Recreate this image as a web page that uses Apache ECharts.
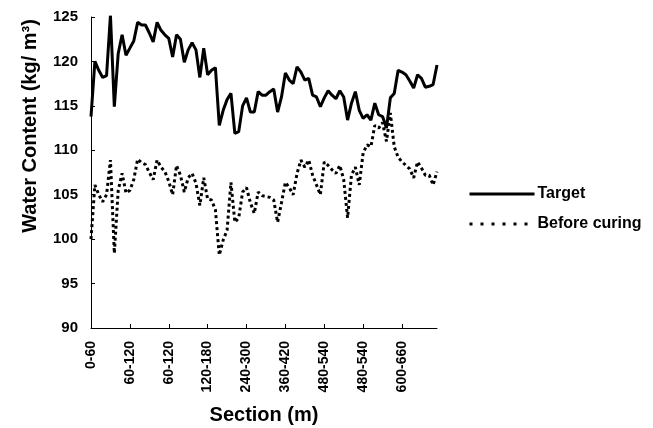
<!DOCTYPE html>
<html>
<head>
<meta charset="utf-8">
<script src="https://cdn.jsdelivr.net/npm/echarts@6/dist/echarts.min.js"></script>
<style>
html,body{margin:0;padding:0;background:#fff;}
#chart{width:653px;height:428px;}
</style>
</head>
<body>
<div id="chart"></div>
<script>
// Tick labels shown along the x axis (every 10th section point)
const tickLabels = ['0-60','60-120','60-120','120-180','240-300','360-420','480-540','480-540','600-660'];

// Target water content (kg/m3)
const target = [
  113.8,120.0,119.0,118.2,118.4,125.2,114.9,120.9,123.0,120.7,
  121.5,122.3,124.4,124.1,124.1,123.2,122.2,124.4,123.5,123.0,
  122.6,120.5,123.0,122.5,119.9,121.3,122.1,121.3,118.2,121.5,
  118.5,119.0,119.3,112.8,114.5,115.7,116.4,111.9,112.1,115.0,
  115.9,114.3,114.3,116.6,116.2,116.2,116.6,116.9,114.3,116.0,
  118.7,117.9,117.5,119.4,118.8,117.9,118.1,116.2,116.0,114.9,
  115.9,116.7,116.2,115.8,116.7,116.0,113.4,115.3,116.6,114.5,
  113.6,114.0,113.4,115.3,114.0,113.8,112.5,115.9,116.4,119.0,
  118.8,118.5,117.8,117.0,118.5,118.1,117.1,117.2,117.4,119.6
];

// Water content before curing (kg/m3)
const beforeCuring = [
  100.0,106.1,105.0,104.2,105.0,108.9,98.4,105.5,107.4,105.2,
  105.5,106.7,109.0,108.6,108.4,107.5,106.7,108.9,108.1,107.6,
  106.5,105.0,108.3,107.2,105.3,106.9,107.4,106.3,103.8,106.9,
  104.5,104.4,103.3,98.2,99.9,101.0,106.4,101.9,102.4,105.3,
  105.8,104.1,102.9,105.3,104.9,104.8,104.7,104.4,101.9,104.1,
  106.4,105.8,105.0,107.4,108.9,108.1,108.9,107.2,106.1,105.0,
  108.7,108.3,107.8,107.4,108.3,106.7,102.4,107.2,108.1,106.1,
  109.7,110.6,110.4,112.8,112.5,113.1,111.0,114.2,110.4,109.2,
  108.7,108.3,107.9,106.9,108.7,108.0,107.2,107.2,106.1,107.6
];

// category for each measured point: grouped by section label
const categories = target.map((_, i) => tickLabels[Math.floor(i / 10)]);

const FONT = '"Liberation Sans", Arial, Helvetica, sans-serif';

const chart = echarts.init(document.getElementById('chart'), null, {renderer: 'canvas'});
chart.setOption({
  backgroundColor: '#ffffff',
  animation: false,
  grid: {left: 91, right: 216, top: 17, bottom: 100, outerBoundsMode: 'none', containLabel: false},
  legend: {
    orient: 'vertical',
    left: 463,
    top: 181,
    itemWidth: 65,
    itemHeight: 12,
    itemGap: 14,
    itemStyle: {opacity: 0},
    textStyle: {fontFamily: FONT, fontWeight: 'bold', fontSize: 16, color: '#000', padding: [0,0,0,-2]},
    data: [
      {name: 'Target', lineStyle: {width: 3, type: 'solid'}},
      {name: 'Before curing', lineStyle: {width: 3, type: [3, 8], cap: 'butt'}}
    ]
  },
  xAxis: {
    type: 'category',
    data: categories,
    boundaryGap: false,
    name: 'Section (m)',
    nameLocation: 'middle',
    nameGap: 77,
    nameTextStyle: {fontFamily: FONT, fontWeight: 'bold', fontSize: 20, color: '#000'},
    axisLine: {show: true, lineStyle: {color: '#000', width: 1}},
    axisTick: {show: true, inside: true, length: 4, interval: 9, alignWithLabel: true, lineStyle: {color: '#000'}},
    axisLabel: {interval: 9, rotate: 90, margin: 13, fontFamily: FONT, fontWeight: 'bold', fontSize: 14, color: '#000'},
    splitLine: {show: false}
  },
  yAxis: {
    type: 'value',
    min: 90,
    max: 125,
    interval: 5,
    axisLine: {show: true, lineStyle: {color: '#000', width: 1}},
    axisTick: {show: true, inside: true, length: 4, lineStyle: {color: '#000'}},
    axisLabel: {margin: 13, fontFamily: FONT, fontWeight: 'bold', fontSize: 15, color: '#000'},
    splitLine: {show: false}
  },
  graphic: [{
    type: 'text',
    x: 30,
    y: 126,
    rotation: Math.PI / 2,
    style: {
      text: 'Water Content (kg/ m³)',
      fontFamily: FONT,
      fontWeight: 'bold',
      fontSize: 20,
      fill: '#000',
      align: 'center',
      verticalAlign: 'middle'
    }
  }],
  series: [
    {
      name: 'Target',
      type: 'line',
      data: target,
      symbol: 'none',
      lineStyle: {color: '#000', width: 3, type: 'solid'},
      itemStyle: {color: '#000'}
    },
    {
      name: 'Before curing',
      type: 'line',
      data: beforeCuring,
      symbol: 'none',
      lineStyle: {color: '#000', width: 3, type: [3, 3], cap: 'butt'},
      itemStyle: {color: '#000'}
    }
  ]
});
</script>
</body>
</html>
